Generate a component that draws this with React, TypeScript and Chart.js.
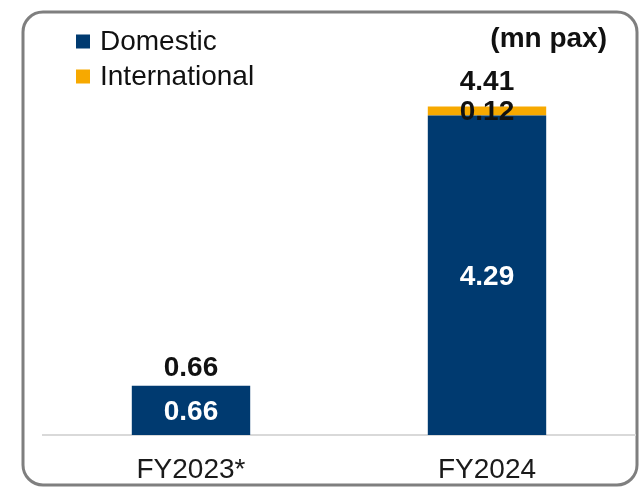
import React, { useEffect, useRef } from "react";
import { Chart, registerables } from "chart.js";

Chart.register(...registerables);

const categories = ["FY2023*", "FY2024"];
const domestic = [0.66, 4.29];
const international = [0, 0.12];
const totals = [0.66, 4.41];
const seriesNames = ["Domestic", "International"];
const unitLabel = "(mn pax)";

const BLUE = "#003A70";
const ORANGE = "#F7A900";
const FONT = "'Liberation Sans', Arial, sans-serif";

const framePlugin = {
  id: "frame",
  beforeDraw(chart: any) {
    const ctx = chart.ctx;
    ctx.save();
    ctx.strokeStyle = "#7f7f7f";
    ctx.lineWidth = 3;
    ctx.beginPath();
    ctx.roundRect(23, 12, 614, 473, 20);
    ctx.stroke();
    ctx.restore();
  },
};

const overlayPlugin = {
  id: "overlay",
  afterDatasetsDraw(chart: any) {
    const ctx = chart.ctx;
    ctx.save();
    // legend
    chart.data.datasets.forEach((ds: any, i: number) => {
      const cy = 41.5 + i * 35;
      ctx.fillStyle = ds.backgroundColor;
      ctx.fillRect(76, cy - 7, 14, 14);
      ctx.fillStyle = "#111";
      ctx.font = `28px ${FONT}`;
      ctx.textAlign = "left";
      ctx.textBaseline = "middle";
      ctx.fillText(ds.label, 100, cy + 1);
    });
    // unit label
    ctx.font = `bold 28px ${FONT}`;
    ctx.textAlign = "right";
    ctx.fillStyle = "#111";
    ctx.fillText(unitLabel, 607, 39);

    // value labels
    const metaD = chart.getDatasetMeta(0);
    const metaI = chart.getDatasetMeta(1);
    ctx.textAlign = "center";
    ctx.font = `bold 28px ${FONT}`;
    categories.forEach((_, idx) => {
      const bd = metaD.data[idx];
      const bi = metaI.data[idx];
      if (domestic[idx] > 0) {
        ctx.fillStyle = "#ffffff";
        ctx.fillText(domestic[idx].toFixed(2), bd.x, (bd.y + bd.base) / 2 + 2);
      }
      let labelY = chart.scales.y.getPixelForValue(totals[idx]) - 18;
      if (international[idx] > 0) {
        const cy = (bi.y + bi.base) / 2;
        ctx.fillStyle = "#111";
        ctx.fillText(international[idx].toFixed(2), bi.x, cy + 1);
        labelY = Math.min(labelY, cy - 29);
      }
      ctx.fillStyle = "#111";
      ctx.fillText(totals[idx].toFixed(2), bd.x, labelY);
    });
    ctx.restore();
  },
};

export default function App() {
  const ref = useRef<HTMLCanvasElement | null>(null);
  useEffect(() => {
    if (!ref.current) return;
    const chart = new Chart(ref.current, {
      type: "bar",
      data: {
        labels: categories,
        datasets: [
          { label: seriesNames[0], data: domestic, backgroundColor: BLUE, borderWidth: 0 },
          { label: seriesNames[1], data: international, backgroundColor: ORANGE, borderWidth: 0 },
        ],
      },
      options: {
        animation: false,
        responsive: false,
        maintainAspectRatio: false,
        events: [],
        layout: { padding: { left: 43, right: 4, top: 62.5, bottom: 3 } },
        datasets: { bar: { categoryPercentage: 0.8, barPercentage: 0.5 } },
        plugins: { legend: { display: false }, tooltip: { enabled: false } },
        scales: {
          x: {
            stacked: true,
            grid: { display: false, drawTicks: false },
            border: { display: true, color: "#d9d9d9", width: 2 },
            ticks: { color: "#1a1a1a", font: { family: FONT, size: 28 }, padding: 18 },
            afterFit: (scale: any) => {
              scale.height = 50;
            },
          },
          y: {
            stacked: true,
            display: false,
            min: 0,
            max: 5,
          },
        },
      },
      plugins: [framePlugin, overlayPlugin],
    });
    return () => chart.destroy();
  }, []);
  return (
    <div style={{ position: "absolute", left: 0, top: 0, width: 639, height: 488, background: "#fff" }}>
      <canvas ref={ref} width={639} height={488} style={{ width: 639, height: 488, display: "block" }} />
    </div>
  );
}
